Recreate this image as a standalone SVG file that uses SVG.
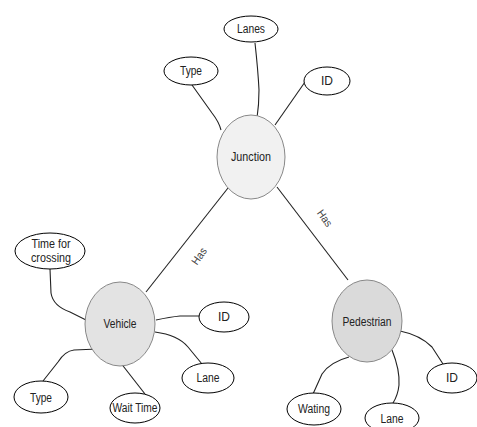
<svg xmlns="http://www.w3.org/2000/svg" width="477" height="427" viewBox="0 0 477 427">
<style>
text{font-family:"Liberation Sans",Arial,sans-serif;font-size:12px;fill:#222;text-anchor:middle;dominant-baseline:central}
.attr{fill:#fff;stroke:#000;stroke-width:1}
.ent{stroke:#888;stroke-width:1}
.c{fill:none;stroke:#222;stroke-width:1.1}
.lbl{fill:#444;font-size:11px}
</style>
<rect width="477" height="427" fill="#fff"/>
<g id="connectors">
<path class="c" d="M192,85 L212,113 Q219,122 221,130"/>
<path class="c" d="M255,43 Q258,70 259,90 Q259,105 257,118"/>
<path class="c" d="M305,82 L275,125"/>
<path class="c" d="M228,188 L146,292"/>
<path class="c" d="M277,187 L348,280"/>
<path class="c" d="M50,269 L51,293 Q53,306 70,312 L86,320"/>
<path class="c" d="M156,320 Q170,317 180,316 L200,316"/>
<path class="c" d="M155,332 Q178,335 188,347 L202,364"/>
<path class="c" d="M98,349 L74,350 Q65,351 58,362 L43,381"/>
<path class="c" d="M120,362 L145,394"/>
<path class="c" d="M400,331 Q420,335 432,347 L443,364"/>
<path class="c" d="M392,350 Q400,370 399,385 Q398,395 393,403"/>
<path class="c" d="M349,357 Q330,362 322,374 L313,394"/>
<text class="lbl" transform="translate(199,256) rotate(-55)" textLength="18" lengthAdjust="spacingAndGlyphs">Has</text>
<text class="lbl" transform="translate(325,218) rotate(55)" textLength="18" lengthAdjust="spacingAndGlyphs">Has</text>
</g>
<g id="junction"><ellipse class="ent" cx="251" cy="157" rx="34" ry="42" fill="#f1f1f1"/><text x="251" y="157" textLength="40" lengthAdjust="spacingAndGlyphs">Junction</text></g>
<g id="j-lanes"><ellipse class="attr" cx="251" cy="29" rx="27" ry="13"/><text x="251" y="29" textLength="28" lengthAdjust="spacingAndGlyphs">Lanes</text></g>
<g id="j-type"><ellipse class="attr" cx="191" cy="71" rx="27" ry="14"/><text x="191" y="71" textLength="22" lengthAdjust="spacingAndGlyphs">Type</text></g>
<g id="j-id"><ellipse class="attr" cx="327" cy="81" rx="23" ry="14"/><text x="327" y="81">ID</text></g>
<g id="vehicle"><ellipse class="ent" cx="120" cy="324" rx="35" ry="42" fill="#e3e3e3"/><text x="120" y="324" textLength="33" lengthAdjust="spacingAndGlyphs">Vehicle</text></g>
<g id="v-time"><ellipse class="attr" cx="50" cy="251" rx="35" ry="18"/><text x="51" y="244" textLength="39" lengthAdjust="spacingAndGlyphs">Time for</text><text x="51" y="258" textLength="40" lengthAdjust="spacingAndGlyphs">crossing</text></g>
<g id="v-id"><ellipse class="attr" cx="224" cy="317" rx="25" ry="15"/><text x="224" y="317">ID</text></g>
<g id="v-lane"><ellipse class="attr" cx="208" cy="378" rx="26" ry="15"/><text x="208" y="378" textLength="23" lengthAdjust="spacingAndGlyphs">Lane</text></g>
<g id="v-type"><ellipse class="attr" cx="41" cy="397" rx="27" ry="16"/><text x="41" y="398" textLength="22" lengthAdjust="spacingAndGlyphs">Type</text></g>
<g id="v-wait"><ellipse class="attr" cx="135" cy="408" rx="25" ry="15"/><text x="135" y="408" textLength="45" lengthAdjust="spacingAndGlyphs">Wait Time</text></g>
<g id="pedestrian"><ellipse class="ent" cx="367" cy="321" rx="35" ry="41" fill="#dadada"/><text x="367" y="322" textLength="49" lengthAdjust="spacingAndGlyphs">Pedestrian</text></g>
<g id="p-wating"><ellipse class="attr" cx="314" cy="409" rx="27" ry="16"/><text x="314" y="409" textLength="32" lengthAdjust="spacingAndGlyphs">Wating</text></g>
<g id="p-lane"><ellipse class="attr" cx="392" cy="418" rx="27" ry="15"/><text x="392" y="419" textLength="23" lengthAdjust="spacingAndGlyphs">Lane</text></g>
<g id="p-id"><ellipse class="attr" cx="452" cy="378" rx="25" ry="15"/><text x="452" y="378">ID</text></g>
</svg>
